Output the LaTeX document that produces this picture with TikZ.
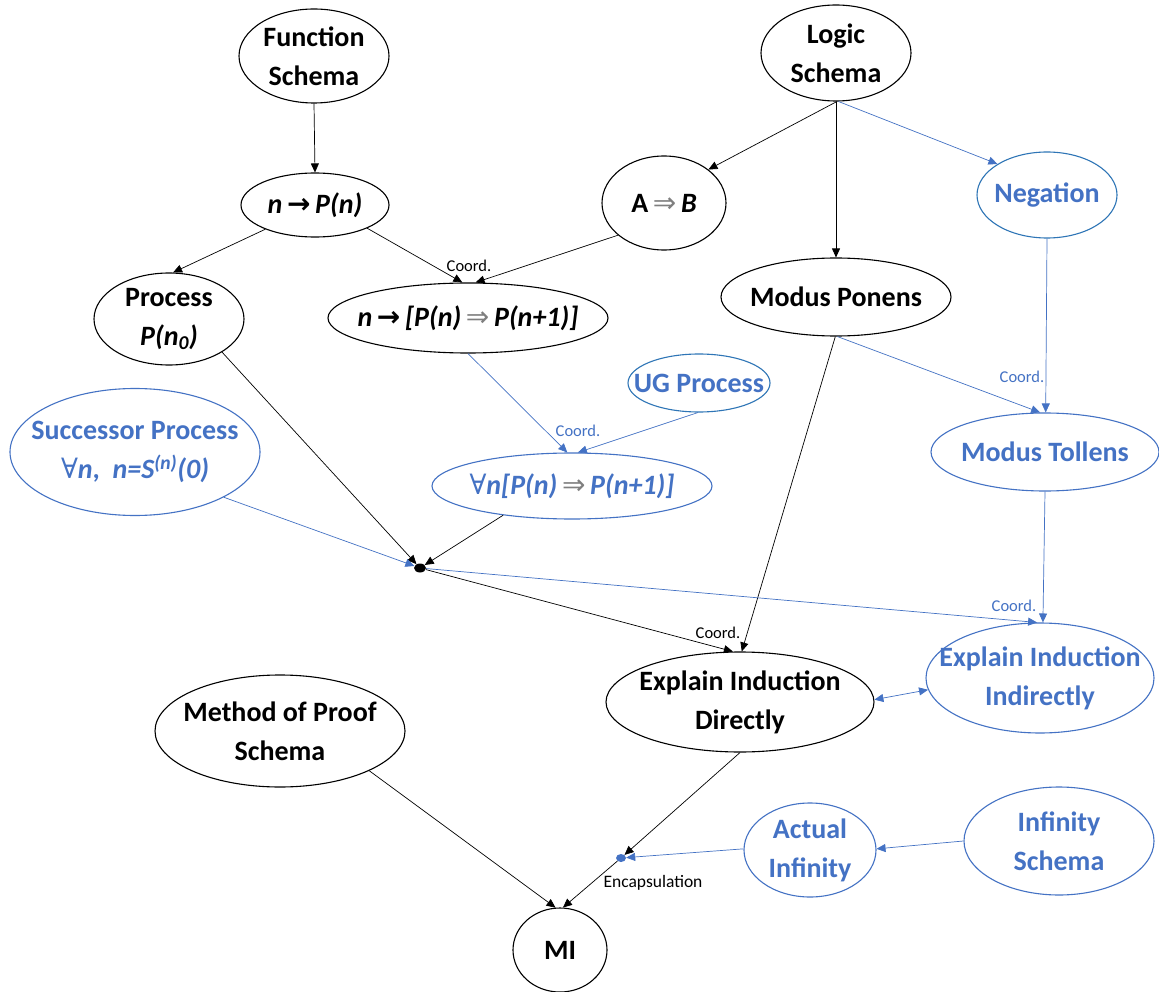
\documentclass[tikz,border=0pt]{standalone}
\usepackage{fontspec}
\setmainfont{Carlito}
\newfontfamily\symfont{DejaVu Sans}
\newfontfamily\quantfont{DejaVu Serif}
\usetikzlibrary{shapes.geometric,arrows.meta}
\definecolor{nodeblue}{HTML}{4472C4}
\definecolor{rimblue}{HTML}{2E75B6}
\definecolor{implgray}{HTML}{7F7F7F}
\newcommand{\bigtext}{\fontsize{28}{39}\selectfont\bfseries}
\newcommand{\imp}{\textcolor{implgray}{\symfont\mdseries ⇒}}
\newcommand{\maps}{{\symfont\bfseries →}}
\newcommand{\every}{{\quantfont\mdseries\upshape ∀}}

\tikzset{
  dims/.style 2 args={minimum width=#1, minimum height=#2},
  concept/.style={ellipse, draw, line width=1.1pt, inner sep=0pt, fill=white},
  blueconcept/.style={concept, draw=nodeblue},
  ctext/.style={align=center, font=\bigtext, text=black, inner sep=0pt},
  btext/.style={ctext, text=nodeblue},
  link/.style={line width=0.7pt, -{Triangle[length=9pt,width=8pt]}},
  bluelink/.style={link, draw=nodeblue, color=nodeblue},
  tag/.style={font=\fontsize{16.5}{19}\selectfont, inner sep=0pt},
  joint/.style={ellipse, fill, inner sep=0pt, minimum width=12pt, minimum height=9pt},
}

\begin{document}
\begin{tikzpicture}[x=1pt,y=-1pt]
\fill[white] (0,0) rectangle (1159,992);
\useasboundingbox (0,0) rectangle (1159,992);

% concept nodes (fixed ellipse sizes, text set as a centred label)
\node[concept, dims={150}{94}, label={[ctext]center:{Function\\Schema}}] (fs) at (314,56) {};
\node[concept, dims={148}{64}, label={[ctext]center:{\textit{n}\,\maps\,\textit{P(n)}}}] (np) at (315,205) {};
\node[concept, dims={150}{92}, label={[ctext]center:{Process\\\textit{P(n\textsubscript{0})}}}] (pr) at (169,319) {};
\node[concept, dims={280}{70}, label={[ctext]center:{\textit{n}\,\maps\,\textit{[P(n)}\,\imp\,\textit{P(n+1)]}}}] (npp) at (468,318) {};
\node[concept, dims={124}{94}, label={[ctext]center:{A\,\imp\,\textit{B}}}] (ab) at (664,203) {};
\node[concept, dims={150}{96}, label={[ctext]center:{Logic\\Schema}}] (ls) at (836,53) {};
\node[blueconcept, draw=rimblue, dims={140}{86}, label={[btext]center:{Negation}}] (neg) at (1047,195) {};
\node[concept, dims={230}{78}, label={[ctext]center:{Modus Ponens}}] (mp) at (836,297) {};
\node[blueconcept, draw=rimblue, dims={142}{58}, label={[btext]center:{UG Process}}] (ug) at (699,383) {};
\node[blueconcept, dims={250}{127}, label={[btext]center:{Successor Process\\\every\textit{n},\ \ \textit{n=S\textsuperscript{(n)}(0)}}}] (sp) at (135,452) {};
\node[blueconcept, dims={280}{66}, label={[btext]center:{\every\textit{n[P(n)}\,\imp\,\textit{P(n+1)]}}}] (an) at (572,486) {};
\node[blueconcept, dims={228}{78}, label={[btext]center:{Modus Tollens}}] (mt) at (1045,452) {};
\node[joint] (d1) at (420,568) {};
\node[concept, dims={268}{100}, label={[ctext]center:{Explain Induction\\Directly}}] (eid) at (740,702) {};
\node[blueconcept, dims={228}{110}, label={[btext]center:{Explain Induction\\Indirectly}}] (eii) at (1040,678) {};
\node[concept, dims={250}{112}, label={[ctext]center:{Method of Proof\\Schema}}] (mps) at (280,731) {};
\node[blueconcept, dims={132}{94}, label={[btext]center:{Actual\\Infinity}}] (ai) at (810,850) {};
\node[blueconcept, dims={190}{108}, label={[btext]center:{Infinity\\Schema}}] (is) at (1059,841) {};
\node[joint, fill=nodeblue, minimum width=10pt, minimum height=8pt] (d2) at (621,858) {};
\node[concept, dims={94}{84}, label={[ctext]center:{MI}}] (mi) at (560,950) {};

% connectors
\draw[link] (fs.-90) -- (np.90);
\draw[link] (np.206) -- (pr.85);
\draw[link] (np.-24) -- (npp.99);
\draw[link] (ab.-145) -- (npp.78);
\draw[link] (ls.-89) -- (ab.37);
\draw[link] (ls.-90) -- (mp.90);
\draw[bluelink] (ls.-87) -- (neg.148);
\draw[bluelink] (neg.-90) -- (mt.89);
\draw[bluelink] (mp.-88) -- (mt.97);
\draw[bluelink] (npp.-90) -- (an.98);
\draw[bluelink] (ug.-92) -- (an.80);
\draw[link] (pr.-32) -- (d1);
\draw[link] (an.-157) -- (d1);
\draw[bluelink] (sp.-27) -- (d1);
\draw[link] (d1) -- (eid.98);
\draw[link] (mp.-91) -- (eid.88);
\draw[bluelink] (d1) -- (eii.93);
\draw[bluelink] (mt.-90) -- (eii.87);
\draw[bluelink, {Triangle[length=9pt,width=8pt]}-{Triangle[length=9pt,width=8pt]}] (eid.1) -- (eii.186);
\draw[link] (eid.-90) -- (d2);
\draw[bluelink] (ai.179) -- (d2);
\draw[bluelink] (is.180) -- (ai.1);
\draw[link] (d2) -- (mi.86);
\draw[link] (mps.-24) -- (mi.96);

% connector labels
\node[tag] (c1) at (469,266) {Coord.};
\node[tag] (c2) at (718,633) {Coord.};
\node[tag, text=nodeblue] (c3) at (578,431) {Coord.};
\node[tag, text=nodeblue] (c4) at (1022,377) {Coord.};
\node[tag, text=nodeblue] (c5) at (1014,606) {Coord.};
\node[font=\fontsize{17.5}{20}\selectfont, inner sep=0pt] (enc) at (653,883) {Encapsulation};
\end{tikzpicture}
\end{document}
